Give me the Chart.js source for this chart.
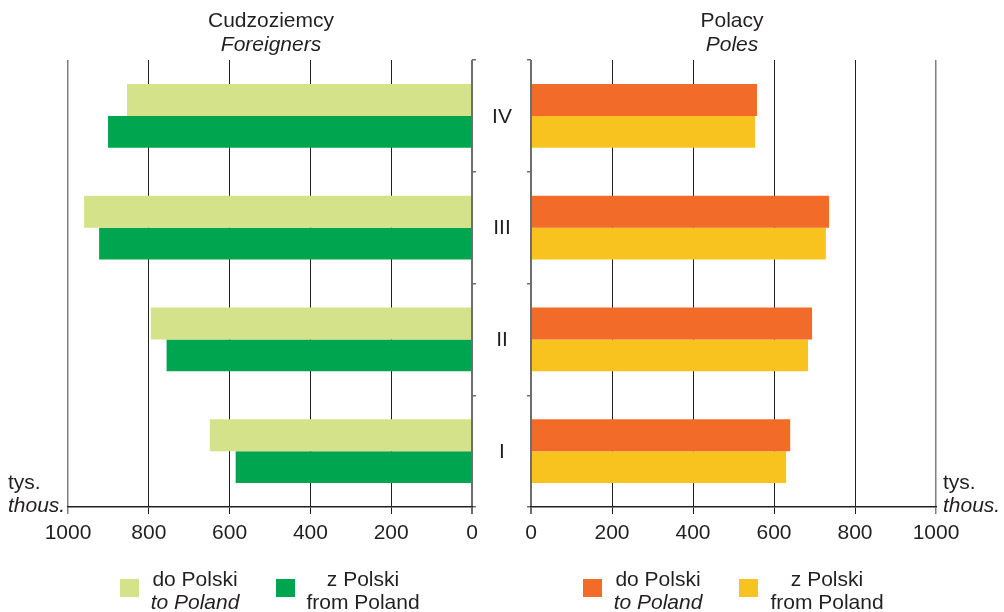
<!DOCTYPE html>
<html>
<head>
<meta charset="utf-8">
<script src="https://cdn.jsdelivr.net/npm/chart.js@4/dist/chart.umd.min.js"></script>
<style>
  html, body { margin: 0; padding: 0; background: #fff; }
  #wrap { position: relative; width: 1004px; height: 612px; font-family: "Liberation Sans", Arial, sans-serif; color: #231f20; }
  canvas { position: absolute; left: 0; top: 0; }
  #c2 { pointer-events: none; }
  .t { position: absolute; font-size: 21px; line-height: 24px; white-space: nowrap; }
  .c { text-align: center; transform: translateX(-50%); }
  .i { font-style: italic; }
  .sw { position: absolute; width: 19px; height: 18px; }
</style>
</head>
<body>
<div id="wrap">
  <canvas id="c1" width="1004" height="612"></canvas>
  <canvas id="c2" width="1004" height="612"></canvas>

  <div class="t c" style="left:271px; top:8px;">Cudzoziemcy<br><span class="i">Foreigners</span></div>
  <div class="t c" style="left:732px; top:8px;">Polacy<br><span class="i">Poles</span></div>

  <div class="t" style="left:8px; top:470px; line-height:23px;">tys.<br><span class="i">thous.</span></div>
  <div class="t" style="left:943px; top:470px; line-height:23px;">tys.<br><span class="i">thous.</span></div>

  <div class="sw" style="left:120px; top:579px; background:#d4e389;"></div>
  <div class="t c" style="left:195px; top:567px; line-height:23px;">do Polski<br><span class="i">to Poland</span></div>
  <div class="sw" style="left:276px; top:579px; background:#00a54f;"></div>
  <div class="t c" style="left:363px; top:567px; line-height:23px;">z Polski<br>from Poland</div>

  <div class="sw" style="left:583px; top:579px; background:#f26b29;"></div>
  <div class="t c" style="left:658px; top:567px; line-height:23px;">do Polski<br><span class="i">to Poland</span></div>
  <div class="sw" style="left:739px; top:579px; background:#f9c31f;"></div>
  <div class="t c" style="left:827px; top:567px; line-height:23px;">z Polski<br>from Poland</div>
</div>
<script>
const categories = ['IV', 'III', 'II', 'I'];
const foreignersToPoland = [854, 960, 795, 649];
const foreignersFromPoland = [901, 923, 756, 585];
const polesToPoland = [558, 736, 694, 640];
const polesFromPoland = [553, 728, 684, 630];
const tickValues = [0, 200, 400, 600, 800, 1000];

const FONT = '"Liberation Sans", Arial, sans-serif';
const TXT = '#231f20';

function gridColor(ctx) {
  const v = ctx.tick && ctx.tick.value;
  if (v === 0) return '#6d6e71';
  if (v === 1000) return '#7f7f7f';
  return '#231f20';
}
function gridWidth(ctx) {
  const v = ctx.tick && ctx.tick.value;
  if (v === 0) return 2;
  if (v === 1000) return 1.5;
  return 1;
}

const catLabelPlugin = {
  id: 'catLabels',
  afterDraw(chart) {
    const ys = chart.scales.y;
    const ctx = chart.ctx;
    ctx.save();
    ctx.font = '21px ' + FONT;
    ctx.fillStyle = TXT;
    ctx.textAlign = 'center';
    ctx.textBaseline = 'middle';
    chart.data.labels.forEach((lab, i) => {
      ctx.fillText(lab, 502, ys.getPixelForValue(i) + 1);
    });
    ctx.restore();
  }
};

function makeOptions(left) {
  return {
    indexAxis: 'y',
    responsive: false,
    animation: false,
    maintainAspectRatio: false,
    layout: { padding: left ? { left: 68, top: 60, right: 502, bottom: 0 } : { left: 502, top: 60, right: 68, bottom: 0 } },
    plugins: { legend: { display: false }, tooltip: { enabled: false } },
    datasets: { bar: { categoryPercentage: 0.5714, barPercentage: 1.0, borderWidth: 0 } },
    scales: {
      x: {
        type: 'linear',
        min: 0, max: 1000,
        reverse: left,
        afterBuildTicks(scale) { scale.ticks = tickValues.map(v => ({ value: v })); },
        afterFit(scale) { scale.height = 105; },
        ticks: { color: TXT, font: { size: 21, family: FONT }, padding: 7, maxRotation: 0, autoSkip: false,
                 callback: (v) => String(v) },
        grid: { color: gridColor, lineWidth: gridWidth, tickLength: 7, tickColor: gridColor, tickWidth: gridWidth },
        border: { display: true, color: TXT, width: 1.5 }
      },
      y: {
        type: 'category',
        position: left ? 'right' : 'left',
        afterFit(scale) { scale.width = left ? 30 : 29; },
        ticks: { display: false },
        grid: { drawOnChartArea: false, drawTicks: true, tickLength: 4, color: '#6d6e71', lineWidth: 1.5, offset: true },
        border: { display: false }
      }
    }
  };
}

new Chart(document.getElementById('c1'), {
  type: 'bar',
  data: {
    labels: categories,
    datasets: [
      { label: 'do Polski', data: foreignersToPoland, backgroundColor: '#d4e389' },
      { label: 'z Polski', data: foreignersFromPoland, backgroundColor: '#00a54f' }
    ]
  },
  options: makeOptions(true),
  plugins: [catLabelPlugin]
});

new Chart(document.getElementById('c2'), {
  type: 'bar',
  data: {
    labels: categories,
    datasets: [
      { label: 'do Polski', data: polesToPoland, backgroundColor: '#f26b29' },
      { label: 'z Polski', data: polesFromPoland, backgroundColor: '#f9c31f' }
    ]
  },
  options: makeOptions(false)
});
</script>
</body>
</html>
